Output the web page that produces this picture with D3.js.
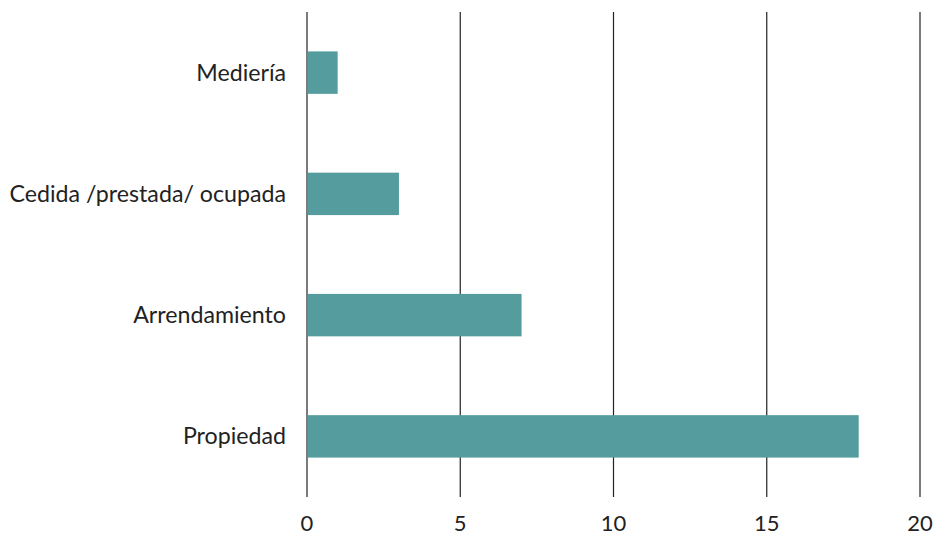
<!DOCTYPE html>
<html><head><meta charset="utf-8">
<script src="https://cdn.jsdelivr.net/npm/d3@7"></script>
<style>body{margin:0;background:#fff}svg{display:block}</style>
</head><body>
<svg id="c" width="936" height="537"></svg>
<script>
const categories = ["Mediería", "Cedida /prestada/ ocupada", "Arrendamiento", "Propiedad"];
const values = [1, 3, 7, 18];
const tickValues = [0, 5, 10, 15, 20];

const svg = d3.select("#c");
const font = "Lato, 'Open Sans', sans-serif";
const x = d3.scaleLinear().domain([0, 20]).range([307, 920]);
const y = d3.scaleBand().domain(categories).range([12, 497]).paddingInner(0.65).paddingOuter(0.325);

svg.append("g").selectAll("line").data(tickValues).join("line")
  .attr("x1", d => x(d)).attr("x2", d => x(d))
  .attr("y1", 12).attr("y2", 497)
  .attr("stroke", "#222").attr("stroke-width", 1.2);

svg.append("g").selectAll("rect").data(values).join("rect")
  .attr("x", x(0) + 0.6).attr("y", (d, i) => y(categories[i]))
  .attr("width", d => x(d) - x(0) - 0.6).attr("height", y.bandwidth())
  .attr("fill", "#559c9e");

svg.append("g").selectAll("text").data(categories).join("text")
  .attr("x", 286).attr("y", d => y(d) + y.bandwidth() / 2)
  .attr("dy", "0.35em").attr("text-anchor", "end")
  .attr("font-family", font).attr("font-size", 23.2).attr("fill", "#222")
  .text(d => d);

svg.append("g").selectAll("text").data(tickValues).join("text")
  .attr("x", d => x(d)).attr("y", 531)
  .attr("text-anchor", "middle")
  .attr("font-family", font).attr("font-size", 22).attr("fill", "#222")
  .text(d => d);
</script>
</body></html>
